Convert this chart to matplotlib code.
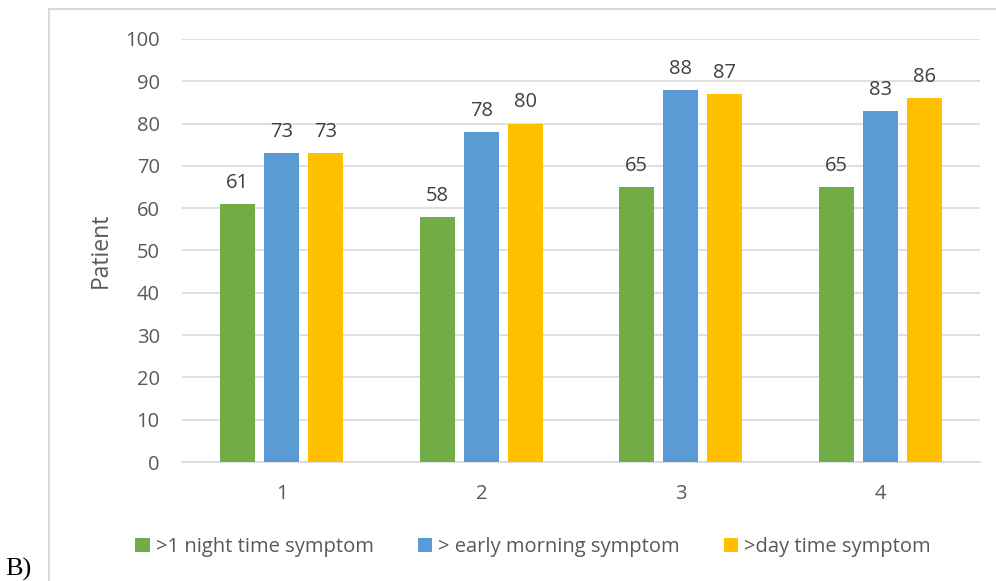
import numpy as np
import matplotlib.pyplot as plt
from matplotlib.patches import Rectangle

categories = ["1", "2", "3", "4"]
night = [61, 58, 65, 65]
early_morning = [73, 78, 88, 83]
day_time = [73, 80, 87, 86]

series_names = [">1 night time symptom", "> early morning symptom", ">day time symptom"]
colors = ["#70ad47", "#5b9bd5", "#ffc000"]

plt.rcParams["font.family"] = ["Open Sans", "DejaVu Sans"]

fig = plt.figure(figsize=(9.96, 5.81), dpi=100)
ax = fig.add_axes([182 / 996, 1 - 462 / 581, 798 / 996, 423 / 581])

x = np.arange(len(categories))
width = 0.175
step = 0.22

for i, (vals, name, c) in enumerate(zip([night, early_morning, day_time], series_names, colors)):
    pos = x + (i - 1) * step
    bars = ax.bar(pos, vals, width, color=c, label=name, zorder=3)
    for b, v in zip(bars, vals):
        ax.annotate(str(v), (b.get_x() + b.get_width() / 2, v),
                    xytext=(0, 8), textcoords="offset points",
                    ha="center", va="bottom", fontsize=14.5, color="#404040")

ax.set_xlim(-0.5, 3.5)
ax.set_ylim(0, 100)
ax.set_yticks(range(0, 101, 10))
ax.set_xticks(x)
ax.set_xticklabels(categories)
ax.grid(axis="y", color="#d9d9d9", linewidth=1.2, zorder=0)
for s in ["top", "right", "left"]:
    ax.spines[s].set_visible(False)
ax.spines["bottom"].set_color("#d9d9d9")
ax.spines["bottom"].set_linewidth(1.2)
ax.tick_params(length=0, labelsize=14.5, labelcolor="#595959")
ax.tick_params(axis="y", pad=16)
ax.tick_params(axis="x", pad=16)
ax.set_ylabel("Patient", fontsize=16.5, color="#595959", labelpad=9)

# chart area border
fig.patches.append(Rectangle((49 / 996, -0.1), 1.2, 1 - 9 / 581 + 0.1,
                             transform=fig.transFigure, fill=False,
                             edgecolor="#d9d9d9", linewidth=1.5))

fig.legend(loc="center", bbox_to_anchor=(533 / 996, 1 - 547 / 581), ncol=3,
           frameon=False, fontsize=14.5, labelcolor="#595959",
           handlelength=0.7, handleheight=0.7, handletextpad=0.3, columnspacing=2.2)

fig.text(5 / 996, 1 - 558 / 581, "B)", family="Liberation Serif", fontsize=19,
         color="black", va="top", ha="left")

fig.savefig("out.png", dpi=100)
